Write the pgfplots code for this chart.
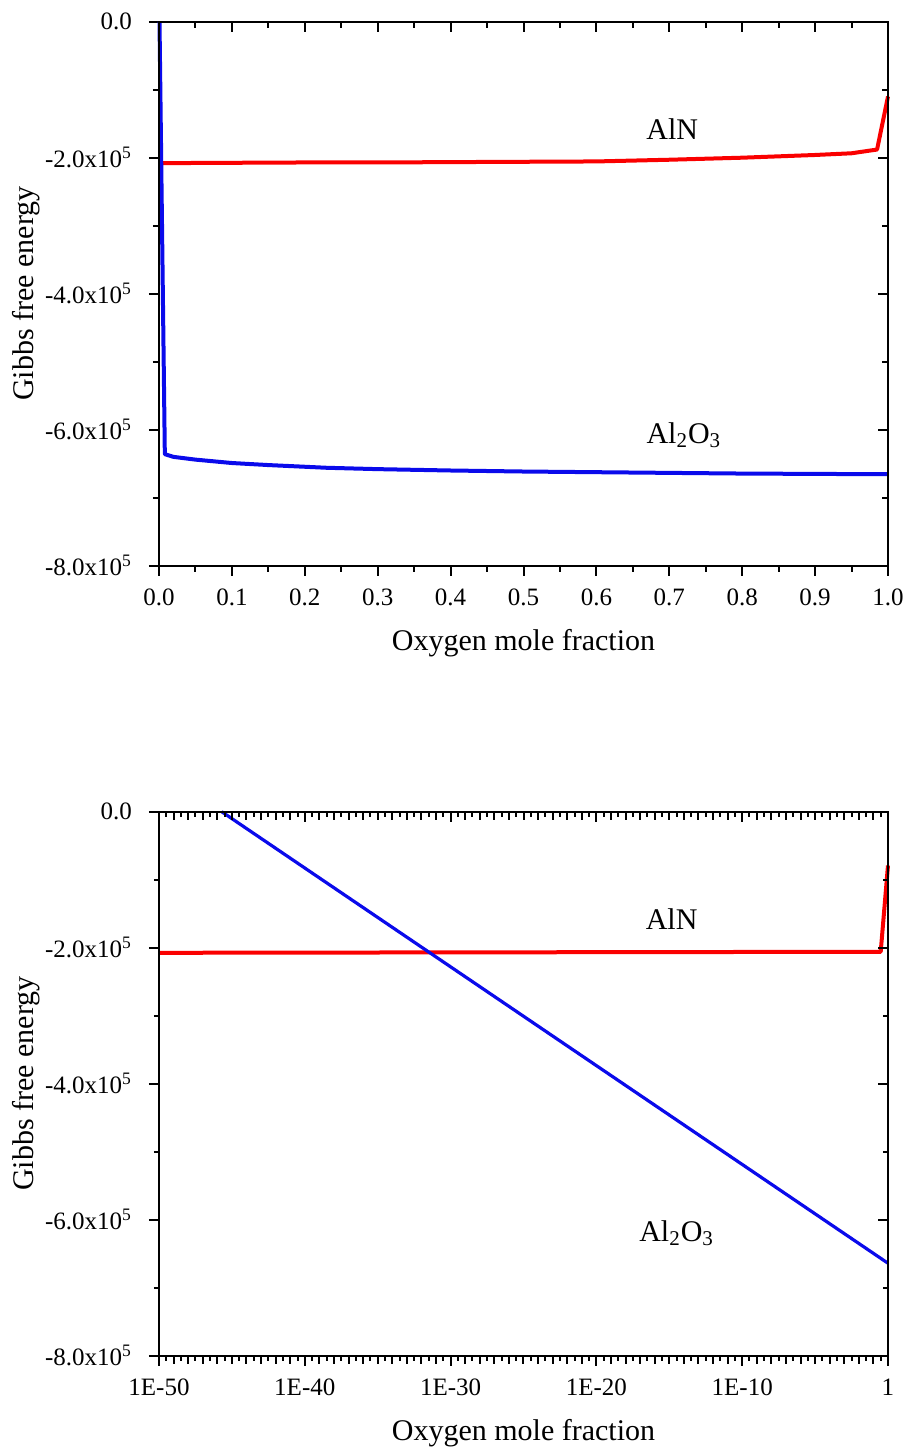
\documentclass[border=0pt]{standalone}
\usepackage{fontspec}
\setmainfont{Liberation Serif}
\usepackage{pgfplots}
\pgfplotsset{compat=1.18}
\definecolor{cred}{RGB}{250,0,0}
\definecolor{cblue}{RGB}{10,10,235}

\pgfplotstableread{
x y
0.005 -208000
0.1 -207500
0.2 -207000
0.3 -207000
0.4 -206500
0.5 -206000
0.6 -205500
0.7 -203000
0.8 -200000
0.9 -196000
0.95 -193500
0.985 -188000
1.0 -110000
}\AlNtop

\pgfplotstableread{
x y
0.0007 0
0.008 -636000
0.02 -640000
0.05 -644000
0.1 -649000
0.15 -652000
0.23 -656000
0.3 -658000
0.4 -660000
0.5 -661500
0.6 -662500
0.7 -663500
0.8 -664500
0.9 -665000
1.0 -665500
}\AlOtop

% bottom chart: x = log10(oxygen mole fraction)
\pgfplotstableread{
x y
-50 -207500
-0.5 -206000
0 -79000
}\AlNbot

\pgfplotstableread{
x y
-45.7 0
0 -664000
}\AlObot

\pgfplotsset{
  base/.style={
    scale only axis, width=364.5pt, height=272pt,
    ymin=-800000, ymax=0,
    ytick={-800000,-600000,-400000,-200000,0},
    minor ytick={-700000,-500000,-300000,-100000},
    scaled y ticks=false,
    axis line style={line width=1pt},
    every tick/.style={black, line width=1pt},
    major tick length=5pt, minor tick length=3pt,
    clip=false,
  },
  topx/.style={
    xmin=0, xmax=1,
    xtick={0,0.1,...,1.0},
    minor xtick={0.05,0.15,...,0.95},
  },
  botx/.style={
    xmin=-50, xmax=0,
    xtick={-50,-40,-30,-20,-10,0},
    minor xtick={-49.5,-48.5,...,-0.5},
    extra x ticks={-49,-48,-47,-46,-45,-44,-43,-42,-41,-39,-38,-37,-36,-35,-34,-33,-32,-31,-29,-28,-27,-26,-25,-24,-23,-22,-21,-19,-18,-17,-16,-15,-14,-13,-12,-11,-9,-8,-7,-6,-5,-4,-3,-2,-1},
    extra x tick labels={},
    extra x tick style={major tick length=4pt},
    minor tick length=2.5pt,
  },
  mainax/.style={
    base, tick align=outside, xtick pos=left, ytick pos=left,
    yticklabels={-8.0x10\textsuperscript{5},-6.0x10\textsuperscript{5},-4.0x10\textsuperscript{5},-2.0x10\textsuperscript{5},0.0},
    xticklabel style={font=\fontsize{12.5}{14}\selectfont, yshift=-3pt},
    yticklabel style={font=\fontsize{12.5}{14}\selectfont, xshift=-5pt},
    xlabel={Oxygen mole fraction},
    ylabel={Gibbs free energy},
    xlabel style={at={(axis description cs:0.5,-0.156)}, anchor=base, font=\fontsize{15}{18}\selectfont},
    ylabel style={at={(axis description cs:-0.1824,0.5)}, anchor=center, font=\fontsize{15}{18}\selectfont},
  },
  mirrorax/.style={
    base, tick align=inside, xtick pos=right, ytick pos=right,
    xticklabels={}, yticklabels={},
  },
}

\begin{document}
\begin{tikzpicture}
% ---------- top chart ----------
\begin{axis}[mainax, topx, at={(0,0)}, anchor=north west,
  xticklabels={0.0,0.1,0.2,0.3,0.4,0.5,0.6,0.7,0.8,0.9,1.0}]
  \addplot[cred, line width=2pt, line join=round] table {\AlNtop};
  \addplot[cblue, line width=2pt, line join=round] table {\AlOtop};
  \node[font=\fontsize{15}{18}\selectfont] at (axis cs:0.704,-158500) {AlN};
  \node[font=\fontsize{15}{18}\selectfont] at (axis cs:0.72,-608000) {Al\textsubscript{2}O\textsubscript{3}};
\end{axis}
\begin{axis}[mirrorax, topx, at={(0,0)}, anchor=north west]
\end{axis}
% ---------- bottom chart ----------
\begin{axis}[mainax, botx, at={(0,-395pt)}, anchor=north west,
  xticklabels={1E-50,1E-40,1E-30,1E-20,1E-10,1}]
  \addplot[cred, line width=2pt, line join=round] table {\AlNbot};
  \addplot[cblue, line width=1.6pt] table {\AlObot};
  \node[font=\fontsize{15}{18}\selectfont] at (axis cs:-14.84,-158000) {AlN};
  \node[font=\fontsize{15}{18}\selectfont] at (axis cs:-14.5,-620000) {Al\textsubscript{2}O\textsubscript{3}};
\end{axis}
\begin{axis}[mirrorax, botx, at={(0,-395pt)}, anchor=north west]
\end{axis}
\pgfresetboundingbox
\path[use as bounding box] (-79.5pt,10.85pt) rectangle (374pt,-714.15pt);
\end{tikzpicture}
\end{document}
